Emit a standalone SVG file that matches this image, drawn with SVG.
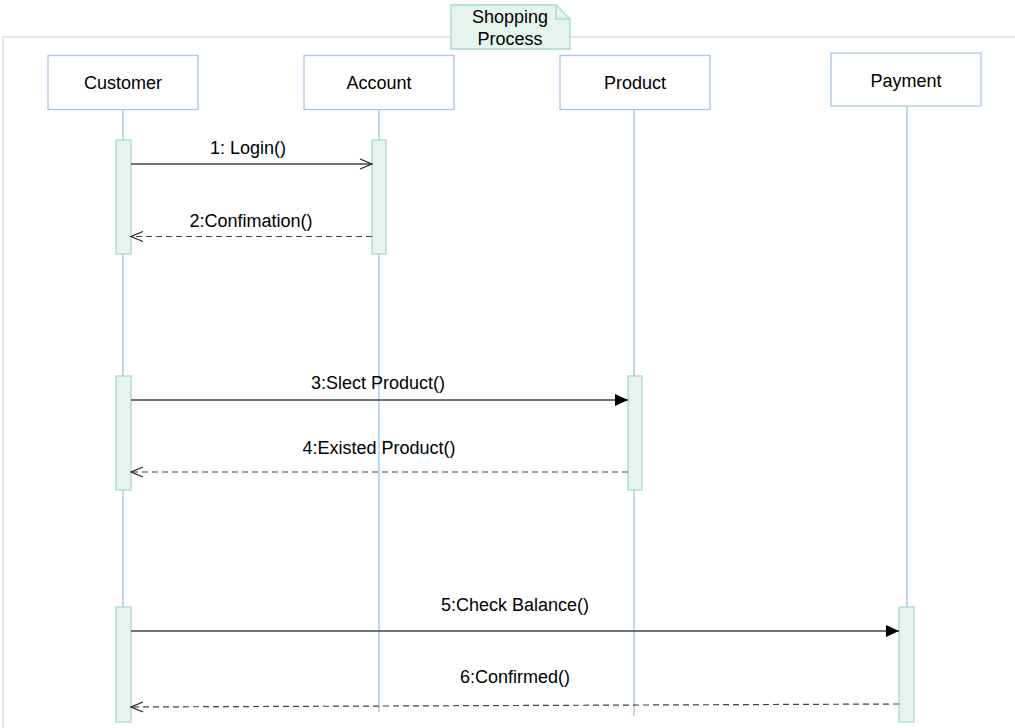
<svg xmlns="http://www.w3.org/2000/svg" width="1015" height="728" viewBox="0 0 1015 728">
<style>
text{font-family:"Liberation Sans",Arial,sans-serif;font-size:18px;fill:#000;text-anchor:middle}
.box{fill:#fff;stroke:#a9c6ea;stroke-width:1.3}
.life{stroke:#9dc3e6;stroke-width:1.3;fill:none}
.act{fill:#e6f4ee;stroke:#a6dcc8;stroke-width:1.3}
.msg{stroke:#444;stroke-width:1.3;fill:none}
.ret{stroke:#444;stroke-width:1.2;fill:none;stroke-dasharray:6,4}
</style>
<defs>
<marker id="open" viewBox="0 0 14 12" refX="13" refY="6" markerWidth="14" markerHeight="12" markerUnits="userSpaceOnUse" orient="auto">
<path d="M1,1 L13,6 L1,11" fill="none" stroke="#222" stroke-width="1.2"/>
</marker>
<marker id="fill" viewBox="0 0 14 12" refX="13" refY="6" markerWidth="14" markerHeight="12" markerUnits="userSpaceOnUse" orient="auto">
<path d="M0,0 L13,6 L0,12 Z" fill="#000"/>
</marker>
</defs>
<path d="M3,728 L3,37 L1015,37" fill="none" stroke="#dcdcdc" stroke-width="1.3"/>
<g id="note">
<path d="M451,5 L556,5 L570,19 L570,49 L451,49 Z" fill="#e6f4ee" stroke="#a6dcc8" stroke-width="1.3"/>
<path d="M556,5 L556,19 L570,19" fill="none" stroke="#a6dcc8" stroke-width="1.3"/>
<text x="510" y="23">Shopping</text>
<text x="510" y="45">Process</text>
</g>
<g id="customer">
<line class="life" x1="123" y1="109" x2="123" y2="722"/>
<rect class="box" x="48" y="55.5" width="150" height="54"/>
<text x="123" y="89">Customer</text>
<rect class="act" x="116" y="140" width="15" height="114"/>
<rect class="act" x="116" y="376" width="15" height="114"/>
<rect class="act" x="116" y="607" width="15" height="115"/>
</g>
<g id="account">
<line class="life" x1="379" y1="109" x2="379" y2="712"/>
<rect class="box" x="304" y="55.5" width="150" height="54"/>
<text x="379" y="89">Account</text>
<rect class="act" x="372" y="140" width="14" height="114"/>
</g>
<g id="product">
<line class="life" x1="634" y1="109" x2="634" y2="716"/>
<rect class="box" x="560" y="55.5" width="150" height="54"/>
<text x="635" y="89">Product</text>
<rect class="act" x="628" y="376" width="14" height="114"/>
</g>
<g id="payment">
<line class="life" x1="907" y1="106" x2="907" y2="607"/>
<rect class="box" x="831" y="53" width="150" height="53"/>
<text x="906" y="87">Payment</text>
<rect class="act" x="899" y="607" width="15" height="115"/>
</g>
<g id="connectors">
<line class="msg" x1="131" y1="164" x2="372" y2="164" marker-end="url(#open)"/>
<text x="248" y="154">1: Login()</text>
<line class="ret" x1="372" y1="236.5" x2="131" y2="236.5" marker-end="url(#open)"/>
<text x="251" y="227">2:Confimation()</text>
<line class="msg" x1="131" y1="400" x2="628" y2="400" marker-end="url(#fill)"/>
<text x="378" y="389">3:Slect Product()</text>
<line class="ret" x1="628" y1="472" x2="131" y2="472" marker-end="url(#open)"/>
<text x="379" y="454">4:Existed Product()</text>
<line class="msg" x1="131" y1="631" x2="899" y2="631" marker-end="url(#fill)"/>
<text x="515" y="611">5:Check Balance()</text>
<line class="ret" x1="899" y1="704" x2="131" y2="707" marker-end="url(#open)"/>
<text x="515" y="683">6:Confirmed()</text>
</g>
</svg>
